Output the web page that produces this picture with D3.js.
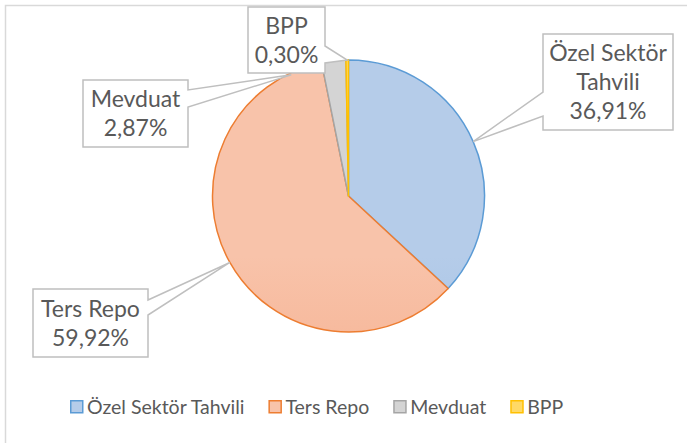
<!DOCTYPE html>
<html>
<head>
<meta charset="utf-8">
<script src="https://cdnjs.cloudflare.com/ajax/libs/d3/7.8.5/d3.min.js"></script>
<style>
  body { margin: 0; background: #fff; }
  text { font-family: Lato, "Open Sans", sans-serif; fill: #595959; }
</style>
</head>
<body>
<div id="chart"></div>
<script>
// data
const categories = ["Özel Sektör Tahvili", "Ters Repo", "Mevduat", "BPP"];
const shares = [36.91, 59.92, 2.87, 0.30];
const labelLines = [["Özel Sektör", "Tahvili"], ["Ters Repo"], ["Mevduat"], ["BPP"]];

const colors = [
  { top: "#b5cce9", bottom: "#93b6e0", stroke: "#5b9bd5" },
  { top: "#f8c3aa", bottom: "#f4a47f", stroke: "#ed7d31" },
  { top: "#d4d4d4", bottom: "#c2c2c2", stroke: "#a5a5a5" },
  { top: "#ffd966", bottom: "#ffc000", stroke: "#ffc000" }
];

const W = 687, H = 443;
const cx = 348.5, cy = 196, R = 136;

// callout boxes: box extents, side the pointer leaves from, pointer base
const callouts = [
  { x0: 543, y0: 34, x1: 673, y1: 130, side: "left", b0: 92, b1: 116 },
  { x0: 33, y0: 289, x1: 148, y1: 357, side: "right", b0: 300, b1: 315 },
  { x0: 83, y0: 80, x1: 188, y1: 147, side: "right", b0: 90, b1: 107, tipAngle: 334.7, tipR: 134 },
  { x0: 248, y0: 7, x1: 325, y1: 73, side: "right", b0: 46, b1: 63 }
];

const fmt = v => d3.format(".2f")(v).replace(".", ",") + "%";

const svg = d3.select("#chart").append("svg")
  .attr("width", W)
  .attr("height", H);

const defs = svg.append("defs");
colors.forEach((c, i) => {
  const g = defs.append("linearGradient")
    .attr("id", "grad" + i)
    .attr("gradientUnits", "userSpaceOnUse")
    .attr("x1", 0).attr("y1", cy - R)
    .attr("x2", 0).attr("y2", cy + R);
  g.append("stop").attr("offset", "0%").attr("stop-color", c.top);
  g.append("stop").attr("offset", "100%").attr("stop-color", c.bottom);
});

// chart area border
svg.append("rect")
  .attr("x", 5.5).attr("y", 5.5)
  .attr("width", W + 20).attr("height", H + 20)
  .attr("fill", "none")
  .attr("stroke", "#d9d9d9")
  .attr("stroke-width", 1.5);

const pie = d3.pie().sort(null).value(d => d);
const arcs = pie(shares);
const arc = d3.arc().innerRadius(0).outerRadius(R);

const g = svg.append("g").attr("transform", "translate(" + cx + "," + cy + ")");
g.selectAll("path")
  .data(arcs)
  .enter().append("path")
  .attr("d", arc)
  .attr("fill", (d, i) => "url(#grad" + i + ")")
  .attr("stroke", (d, i) => colors[i].stroke)
  .attr("stroke-width", 1.5)
  .attr("stroke-linejoin", "round");

// callouts with pointers
arcs.forEach((a, i) => {
  const c = callouts[i];
  const ang = c.tipAngle != null ? c.tipAngle * Math.PI / 180 : (a.startAngle + a.endAngle) / 2;
  const r = c.tipR != null ? c.tipR : R;
  const tx = cx + r * Math.sin(ang), ty = cy - r * Math.cos(ang);
  let pts;
  if (c.side === "left") {
    pts = [[c.x0, c.y0], [c.x1, c.y0], [c.x1, c.y1], [c.x0, c.y1], [c.x0, c.b1], [tx, ty], [c.x0, c.b0]];
  } else {
    pts = [[c.x0, c.y0], [c.x1, c.y0], [c.x1, c.b0], [tx, ty], [c.x1, c.b1], [c.x1, c.y1], [c.x0, c.y1]];
  }
  svg.append("path")
    .attr("d", d3.line()(pts) + "Z")
    .attr("fill", "#fff")
    .attr("stroke", "#bfbfbf")
    .attr("stroke-width", 1.5)
    .attr("stroke-linejoin", "miter");

  const lines = labelLines[i].concat([fmt(shares[i])]);
  const lh = 29;
  const midY = (c.y0 + c.y1) / 2;
  const firstBase = midY - (lines.length - 1) * lh / 2 + 8;
  const t = svg.append("text")
    .attr("text-anchor", "middle")
    .style("font-size", "23px");
  lines.forEach((s, k) => {
    t.append("tspan")
      .attr("x", (c.x0 + c.x1) / 2)
      .attr("y", firstBase + k * lh)
      .text(s);
  });
});

// legend
const legend = svg.append("g").attr("transform", "translate(70,407)");
let lx = 0;
categories.forEach((name, i) => {
  const item = legend.append("g").attr("transform", "translate(" + lx + ",0)");
  item.append("rect")
    .attr("x", 0.75).attr("y", -6.25)
    .attr("width", 12).attr("height", 12)
    .attr("fill", colors[i].top)
    .attr("stroke", colors[i].stroke)
    .attr("stroke-width", 1.5);
  const txt = item.append("text")
    .attr("x", 17)
    .attr("y", 7)
    .style("font-size", "19.5px")
    .text(name);
  lx += 17 + txt.node().getComputedTextLength() + 24;
});
</script>
</body>
</html>
